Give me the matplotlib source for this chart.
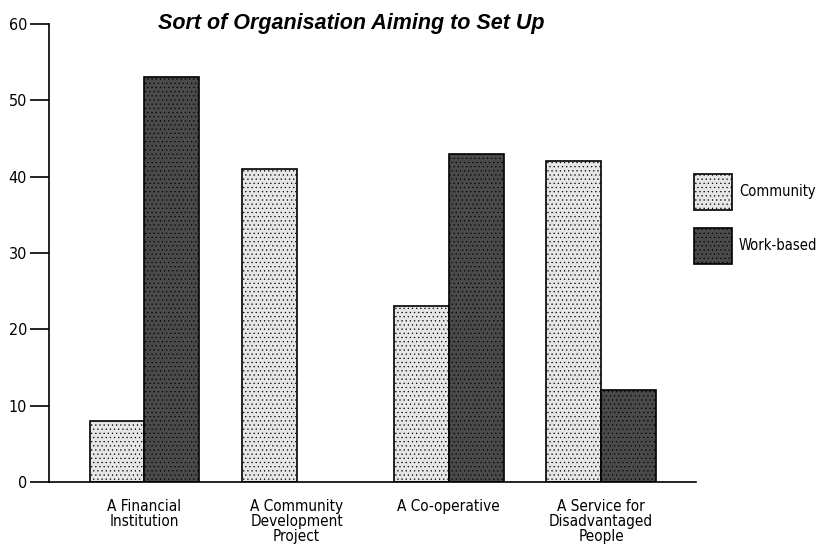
import numpy as np
import matplotlib.pyplot as plt
from matplotlib import font_manager

# Data
categories = ['A Financial\nInstitution', 'A Community\nDevelopment\nProject',
              'A Co-operative', 'A Service for\nDisadvantaged\nPeople']
community = [8, 41, 23, 42]
work_based = [53, 0, 43, 12]

plt.rcParams['hatch.linewidth'] = 0.4
narrow = dict(family='DejaVu Sans', stretch='condensed')
leg_font = font_manager.FontProperties(family='DejaVu Sans', stretch='condensed', size=10.5)

fig = plt.figure(figsize=(8.21, 5.56), dpi=100)
ax = fig.add_axes([0.06, 0.133, 0.788, 0.824])

x = np.arange(len(categories))
w = 0.36
ax.bar(x - w / 2, community, w, color='#e6e6e6', edgecolor='black',
       linewidth=1.2, hatch='....', label='Community')
wb = [v if v > 0 else np.nan for v in work_based]
ax.bar(x + w / 2, wb, w, color='#4a4a4a', edgecolor='black',
       linewidth=1.2, hatch='....', label='Work-based')

ax.set_xlim(-0.625, 3.625)
ax.set_ylim(0, 60)
ax.set_yticks(range(0, 61, 10))
ax.set_xticks(x)
ax.set_xticklabels(categories, fontsize=11, linespacing=1.0, **narrow)
for t in ax.get_yticklabels():
    t.set_family('DejaVu Sans')
    t.set_stretch('condensed')
    t.set_fontsize(11.5)
ax.tick_params(axis='y', length=14, width=1.2, pad=2)
ax.tick_params(axis='x', length=0, pad=12)
for s in ['top', 'right']:
    ax.spines[s].set_visible(False)
ax.spines['left'].set_linewidth(1.2)
ax.spines['bottom'].set_linewidth(1.2)

fig.text(0.428, 0.958, 'Sort of Organisation Aiming to Set Up',
         ha='center', va='center', fontsize=15.5, fontweight='bold',
         style='italic', family='Liberation Sans')

leg = ax.legend(loc='upper left', bbox_to_anchor=(0.995, 0.675), frameon=False,
                handlelength=2.6, handleheight=3.4, labelspacing=1.25,
                handletextpad=0.45, borderaxespad=0, borderpad=0.1,
                prop=leg_font)

fig.savefig('out.png', dpi=100)
